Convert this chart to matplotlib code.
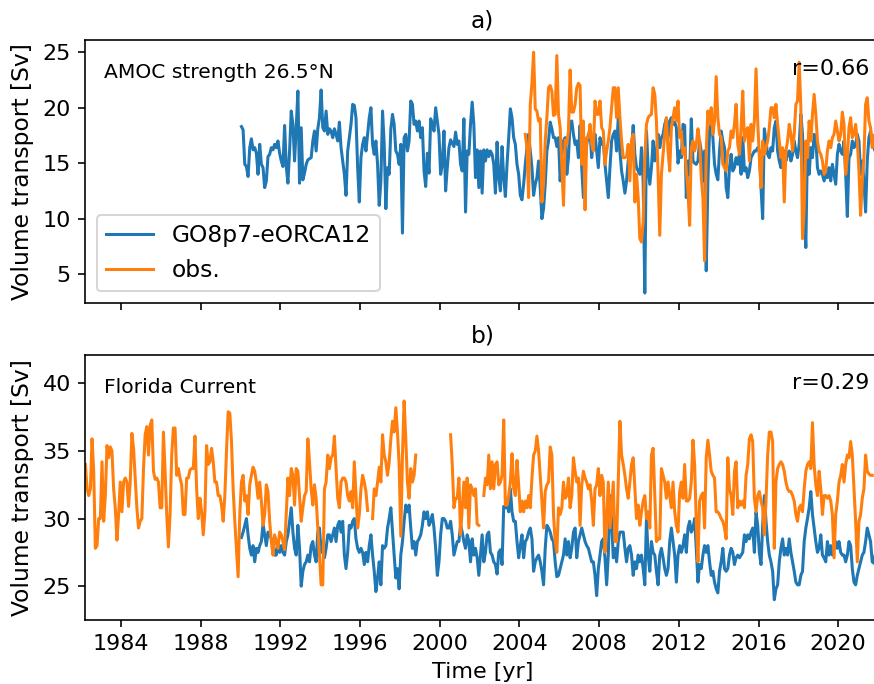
import numpy as np
import matplotlib
matplotlib.use("Agg")
import matplotlib.pyplot as plt

nan = np.nan

# monthly means, model run starts Jan 1990
amoc_model = [
    18.3, 18.0, 14.9, 14.7, 13.8, 16.4, 17.2, 16.2, 16.4, 15.9, 14.0, 16.7,
    14.9, 14.6, 12.8, 13.4, 15.6, 15.8, 16.4, 16.2, 16.7, 16.4, 17.0, 15.9,
    15.2, 14.7, 18.4, 14.7, 13.2, 16.1, 19.7, 18.5, 15.2, 18.2, 21.5, 13.2,
    18.2, 13.5, 14.1, 14.9, 15.3, 15.4, 15.5, 17.0, 17.9, 16.1, 18.1, 19.1,
    21.6, 18.2, 17.9, 19.7, 17.6, 18.1, 17.9, 17.3, 18.1, 17.6, 17.0, 18.7,
    16.4, 15.2, 14.0, 12.1, 16.1, 17.3, 18.5, 20.3, 20.2, 19.1, 14.6, 11.5,
    15.5, 16.7, 17.3, 16.1, 17.6, 19.1, 20.0, 16.7, 15.8, 17.0, 14.9, 11.2,
    13.4, 19.7, 16.7, 10.9, 14.6, 14.0, 18.1, 19.4, 18.5, 16.1, 15.8, 14.9,
    16.7, 8.7, 17.3, 17.6, 16.1, 17.0, 20.6, 20.3, 18.5, 18.8, 17.9, 18.8,
    17.3, 18.2, 14.3, 12.9, 15.9, 14.1, 19.0, 18.5, 17.9, 20.0, 18.8, 17.6,
    14.0, 14.9, 17.9, 12.5, 14.6, 16.4, 17.1, 16.8, 16.5, 17.8, 16.7, 17.0,
    14.9, 14.3, 19.0, 10.6, 16.1, 15.8, 18.5, 20.5, 18.5, 13.7, 16.2, 12.8,
    16.1, 12.3, 16.2, 15.2, 16.2, 15.6, 16.1, 15.8, 14.9, 12.3, 16.9, 13.7,
    12.5, 16.5, 13.7, 12.0, 14.9, 17.3, 19.9, 19.1, 17.3, 16.7, 14.9, 14.0,
    12.1, 11.7, 13.1, 14.9, 16.4, 17.6, 16.1, 14.6, 12.1, 13.1, 13.7, 15.2,
    12.8, 10.0, 10.9, 13.1, 16.1, 17.0, 18.7, 18.1, 17.3, 17.3, 16.5, 17.3,
    13.4, 15.8, 17.0, 17.3, 14.0, 15.5, 18.7, 18.8, 17.6, 16.7, 17.0, 15.5,
    18.4, 14.6, 11.9, 14.9, 16.7, 17.6, 17.8, 15.5, 17.0, 17.6, 16.1, 14.6,
    17.3, 16.7, 17.0, 14.9, 13.4, 11.9, 14.6, 17.0, 17.6,
    17.9, 16.1, 19.1, 16.1, 14.3, 13.4, 12.3, 13.4, 15.2, 16.1, 16.4, 18.4,
    15.8, 14.6, 14.3, 14.0, 16.4, 13.4, 3.3, 17.9, 14.6, 13.1, 14.6, 17.0,
    15.2, 16.1, 17.6, 16.4, 17.3, 17.6, 18.5, 19.0, 17.3, 18.8, 19.1, 18.5,
    18.7, 18.2, 15.0, 16.1, 15.5, 18.5, 18.4, 11.9, 15.2, 14.0, 19.0, 15.2,
    15.0, 14.9, 15.2, 17.0, 16.1, 13.4, 16.1, 5.3, 13.4, 17.9, 18.8, 17.3,
    14.9, 14.0, 13.5, 16.1, 17.9, 17.0, 16.4, 12.8, 11.9, 14.6, 15.8, 14.3,
    14.6, 15.5, 14.9, 15.8, 14.0, 17.3, 14.3, 14.6, 13.7, 14.3, 15.5, 15.8,
    16.1, 16.1, 16.4, 16.1, 12.8, 10.0, 18.1, 17.0, 15.8, 15.5, 16.4, 16.1,
    18.2, 18.8, 16.1, 15.2, 14.6, 15.8, 16.1, 15.2, 15.8, 16.1, 15.2, 15.8,
    17.0, 16.1, 15.5, 16.7, 19.4, 17.6, 10.9, 7.4, 17.0, 14.0,
    16.4, 15.5, 17.6, 17.3, 14.6, 14.0, 14.3, 14.0, 13.4, 14.0, 13.7, 14.6,
    13.4, 14.9, 14.0, 13.1, 15.8, 16.7, 16.1, 15.8, 17.0, 14.0, 10.2, 15.5,
    15.8, 17.0, 16.4, 16.7, 17.6, 17.0, 14.0, 15.2, 13.4, 10.6, 15.2, 17.3,
    17.9, 16.7, 16.4, 16.0, 15.2,
]

# RAPID array, from Apr 2004
amoc_obs = [
    17.6, 16.4, 11.9, 20.3, 22.2, 25.0, 19.9, 19.7, 18.8,
    19.0, 11.5, 13.1, 17.0, 19.1, 21.8, 22.0, 21.5, 19.3, 19.4, 24.7, 19.4,
    18.2, 14.9, 11.2, 17.1, 16.7, 17.9, 23.4, 19.6, 19.6, 20.3, 21.8, 22.2,
    22.0, 14.9, 18.8, 10.8, 17.3, 17.3, 18.5, 16.7, 16.1, 20.6, 19.4, 19.4,
    20.6, 18.2, 17.9, 14.9, 16.1, 17.0, 18.2, 20.0, 21.8,
    21.8, 19.1, 21.8, 19.1, 17.0, 15.5, 15.5, 15.6, 16.7, 13.4, 17.0, 17.6,
    11.5, 14.0, 11.9, 8.2, 7.9, 9.7, 15.5, 18.5, 19.1, 19.3, 19.4, 21.8,
    21.2, 18.8, 14.0, 8.5, 14.0, 15.8, 17.6, 19.1, 16.1, 14.3, 18.2, 19.1,
    20.0, 18.8, 20.6, 17.3, 17.9, 15.8, 16.4, 14.3, 12.5, 9.4, 16.4, 17.0,
    16.1, 16.7, 18.1, 17.0, 13.7, 11.9, 6.2, 16.1, 19.7, 18.5, 20.0, 17.6,
    18.8, 22.8, 19.1, 17.6, 17.3, 14.9, 14.6, 14.3, 16.1, 16.4, 17.9, 17.3,
    18.5, 20.3, 16.7, 15.8, 18.2, 21.5, 17.0, 17.9, 18.2, 15.2, 18.5, 17.0,
    18.8, 23.5, 18.8, 15.5, 12.8, 17.0, 15.8, 16.4, 17.0, 18.2, 20.0, 20.0,
    19.1, 20.3, 18.5, 17.0, 15.5, 16.4, 11.5, 16.1, 17.0, 18.5, 17.6, 16.1,
    17.6, 20.3, 20.6, 24.1, 20.0, 8.2, 10.9, 17.0, 15.5,
    18.8, 17.0, 19.4, 21.2, 19.4, 17.0, 16.1, 15.8, 15.2, 14.0, 14.3, 16.1,
    17.0, 16.4, 17.3, 17.6, 18.8, 17.9, 17.0, 17.6, 19.6, 18.5, 14.0, 15.5,
    18.2, 19.1, 17.3, 17.6, 18.5, 17.0, 14.3, 10.3, 13.4, 15.5, 20.3, 20.9,
    18.8, 18.2, 16.4, 17.5,
]

# model, Florida Current, from Jan 1990
fc_model = [
    28.6, 29.0, 29.5, 30.0, 28.8, 27.8, 27.3, 28.0, 26.8, 27.8, 27.5, 28.0,
    28.3, 29.6, 28.8, 28.0, 29.0, 28.8, 28.5, 28.3, 27.3,
    27.3, 28.3, 27.5, 28.0, 27.5, 27.3, 28.3, 28.8, 29.8, 30.8, 29.0, 27.8,
    27.3, 29.5, 27.8, 25.0, 26.1, 26.6, 26.8, 27.3, 26.8, 28.0, 28.3, 27.3,
    26.8, 29.0, 29.3, 27.5, 28.3, 27.1, 27.8, 28.8, 28.8, 28.3, 28.8, 29.3,
    28.3, 29.5, 29.8, 29.0, 29.8, 27.3, 26.3, 27.5, 29.5, 29.3, 29.8, 30.0,
    28.5, 27.8, 27.5, 27.8, 27.5, 26.6, 27.5, 26.8, 28.0, 28.8, 27.3, 26.1,
    24.6, 25.6, 26.8, 25.1, 28.0, 27.8, 28.0, 29.3, 30.0, 30.8, 29.0, 27.3,
    25.6, 26.3, 24.8, 27.3, 28.3, 29.8, 31.0, 30.5, 31.0, 29.3, 27.8, 28.3,
    27.3, 28.3, 28.5, 28.8, 29.5, 30.5, 30.0, 30.5, 29.5, 29.8, 30.3, 29.3,
    27.8, 25.8, 26.8, 28.8, 30.0, 30.0, 29.8, 29.3, 29.3, 29.8, 28.8, 27.3,
    27.8, 28.3, 28.3, 29.5, 29.0, 28.3, 27.8, 28.8, 28.3, 26.8, 28.5,
    27.3, 27.8, 27.1, 25.8, 27.3, 28.8, 26.8, 27.5, 28.8, 29.0, 27.5, 27.3,
    26.8, 26.6, 25.9, 27.5, 27.7, 26.6, 30.9, 30.8, 31.0, 30.5, 32.2, 30.5,
    29.8, 29.8, 28.3, 27.1, 28.0, 28.8, 27.1, 28.3, 28.5, 29.0, 29.3, 28.5,
    26.1, 26.8, 27.1, 27.3, 26.8, 26.1, 25.1, 27.8, 29.5, 29.3, 29.0, 28.5,
    28.3, 26.8, 25.7, 25.8, 26.3, 26.8, 27.3, 28.5, 27.3, 28.3, 27.1, 27.8,
    29.0, 29.3, 27.1, 28.3, 28.8, 29.3, 28.8, 28.3, 28.0, 27.8, 27.3, 26.8,
    26.8, 25.8, 24.3, 26.3, 27.3, 28.3, 28.5, 27.1, 25.1, 27.3, 31.7, 29.8,
    27.1, 27.8, 26.8, 28.3, 29.0, 29.0, 29.0, 27.8, 26.8, 27.8, 28.0, 27.3,
    25.8, 26.8, 26.3, 27.3, 26.8, 27.3, 26.3, 25.1, 30.0, 27.3, 26.1, 28.3,
    27.5, 27.3, 26.1, 25.1, 27.3, 27.8, 27.1, 26.3, 25.8, 26.3,
    28.3, 29.3, 28.3, 27.3, 25.3, 27.3, 28.0, 27.5, 28.0, 28.8, 27.5, 29.3,
    29.8, 29.0, 29.3, 30.0, 27.8, 25.3, 26.6, 26.3, 27.3, 28.0, 27.5, 28.0,
    26.8, 25.8, 26.1, 25.3, 24.8, 24.5, 26.1, 26.8, 27.8, 26.3, 26.1, 26.3,
    27.3, 27.8, 27.5, 26.6, 27.1, 27.3, 27.1, 27.3, 27.5, 28.8, 28.3, 28.8,
    28.5, 29.0, 29.3, 27.5, 30.5, 29.5, 27.5, 26.6, 29.5, 31.7, 29.8, 28.3,
    27.3, 26.8, 26.1, 24.0, 24.8, 25.1, 26.8, 27.8, 28.5, 27.3, 27.8, 27.3,
    28.5, 27.5, 26.8, 26.1, 25.3, 25.1, 25.1, 25.8, 26.1, 28.3, 29.3, 30.0,
    30.8, 32.0, 30.3, 29.3, 28.3, 27.5, 27.8, 28.8, 27.3, 27.1, 26.8, 28.3,
    27.3, 28.0, 27.3, 27.8, 28.3, 27.8, 28.3, 27.5, 27.3, 27.3, 26.8, 27.3,
    28.3, 28.0, 26.3, 25.3, 25.1, 25.8, 26.3, 26.8, 27.3, 27.5, 28.3, 29.3,
    28.8, 28.3, 26.8, 26.7, 27.5, 28.0,
]

# cable observations, from Mar 1982 (nan = no data)
fc_obs = [
    34.0, 32.2, 31.7, 32.2, 35.9, 33.5, 27.8, 28.0, 30.0, 30.0, 34.2, 29.8,
    31.7, 35.4, 34.5, 35.3, 35.0, 32.2, 30.8, 28.4, 30.3, 32.7, 30.5, 32.7,
    33.0, 32.7, 30.9, 32.7, 36.3, 35.2, 33.0, 30.8, 29.3, 29.8, 30.0, 33.7,
    36.2, 36.8, 34.7, 36.9, 37.3, 33.5, 32.9, 33.0, 32.7, 30.8, 30.8, 36.4,
    33.5, 30.3, 27.9, 30.3, 34.7, 36.7, 36.7, 33.2, 33.7, 33.0, 32.5, 30.3,
    30.3, 33.0, 33.0, 33.6, 33.7, 33.7, 36.1, 32.2, 30.0, 31.5, 30.5, 28.8,
    30.5, 35.4, 34.0, 34.2, 35.2, 34.2, 32.7, 32.7, 31.7, 31.7, 31.0, 29.8,
    31.7, 35.0, 37.9, 37.8, 35.7, 32.2, 29.8, 27.8, 25.7, 30.3, 32.7, 33.2,
    31.3, 31.7, 30.3, 32.5, 33.2, 33.8, 33.5, 32.7, 31.5, 32.7, 31.3, 29.5,
    30.3, 32.5, 32.0, 29.8, 28.3, 27.3, 28.8, 28.3, 27.8,
    29.0, 28.8, 28.3, 27.7, 30.3, 33.0, 31.7, 33.7, 33.2, 31.0, 33.7, 33.5,
    31.7, 29.8, 30.8, 31.7, 32.0, 35.9, 34.2, 32.2, 31.0, 32.5, 31.5, 29.3,
    27.3, 25.1, 25.1, 32.2, 32.7, 34.7, 33.7, 34.5, 34.7, 36.1, 33.7, 31.5,
    30.8, 32.7, 33.0, 33.0, 32.7, 31.7, 31.3, 32.0, 30.8, 34.2, 31.7, 29.3,
    30.3, 32.2, 33.2, 32.7, 32.0, 30.6, nan, nan,
    30.0, 32.2, 31.7, 32.7, 33.8, 32.7, 36.2, 34.7, 34.2, 33.2, 34.2, 35.9,
    37.2, 36.4, 38.2, 36.4, 34.0, 28.7, 34.7, 38.7, 35.9, 32.7, 31.5, 33.7,
    32.7, 33.2, 34.7,
    nan, nan, nan, nan, nan, nan, nan, nan, nan, nan,
    nan, nan, nan, nan, nan, nan, nan, nan, nan, nan,
    36.2, 34.0, 30.8, 31.5, 31.5, 33.0, 28.8, 30.8, 32.7, 30.8, 33.0, 29.3,
    32.5, 32.2, 31.7, 32.2, 29.6, 29.5, nan, nan,
    31.7, 33.0, 32.5, 34.7, 32.2, 34.2, 32.2, 34.0, 34.2, 32.5, 32.7, 33.2,
    37.3, 31.0, 31.0, 31.7, 32.7, 34.8, 32.2, 31.7, 34.3, 32.5, 30.5, 31.3,
    30.5, 31.3, 30.8, 31.7, 30.8, 33.0, 34.7, 35.0, 36.1, 35.0, 33.2, 31.3,
    29.3, 32.0, 32.5, 32.7, 35.3, 34.7, 30.3, 28.3, 27.5, 30.8, 30.3, 30.8,
    32.7, 31.5, 31.7, 33.0, 30.8, 31.7, 34.5, 33.5, 32.7, 33.0, 29.5, 32.5,
    33.5, 33.0, 32.7, 32.2, 32.5, 31.3, 29.5, 32.2, 32.5, 33.7, 31.7, 33.2,
    32.7, 27.5, 29.8, 32.7, 29.3, 31.0, 32.7, 28.3, 28.3, 32.7, 37.2, 34.7,
    34.0, 33.2, 32.2, 31.5, 32.7, 34.0, 34.5, 32.2, 30.0, 31.0, 29.5, 30.5,
    31.3, 31.7, 30.0, 30.5, 29.3, 34.7, 35.2, 31.7, 28.3, 28.5, 28.5, 33.7,
    33.2, 32.7, 31.5, 32.7, 31.7,
    30.8, 32.7, 30.5, 29.5, 29.0, 32.0, 32.7, 31.5, 34.0, 31.3, 31.3, 31.5,
    32.7, 35.8, 34.0, 29.8, 26.8, 31.3, 31.7, 31.9, 29.3, 34.5, 35.8, 34.7,
    33.5, 33.2, 33.0, 30.5, 30.5, 30.3, 30.0, 29.8, 29.3, 28.5, 34.5, 32.2,
    31.7, 30.3, 33.5, 34.2, 30.8, 31.3, 31.0, 31.3, 30.8, 33.2, 34.0, 35.9,
    36.2, 35.7, 31.5, 30.5, 31.7, 32.0, 31.3, 30.8, 28.8, 31.3, 34.7, 36.4,
    36.4, 35.7, 27.8, 32.7, 33.7, 34.0, 34.2, 34.0, 33.5, 32.7, 32.2, 32.0,
    32.0, 31.7, 31.3, 30.3, 29.8, 30.8, 31.0, 30.5, 32.2, 33.5, 34.0, 34.2,
    33.7, 37.1, 34.0, 32.5, 31.7, 33.5, 32.2, 30.3, 31.7, 31.7, 31.5, 31.7,
    31.3, 30.3, 27.1, 30.3, 31.3, 32.7, 33.2, 34.0, 32.7, 34.0, 34.7, 34.5,
    35.7, 34.7, 32.2, 29.8, 26.8, 29.8, 30.3, 31.5, 32.2, 34.7, 33.5, 33.3,
    33.2, 33.2,
]


def monthly(year, month, n):
    return year + (month - 1 + np.arange(n) + 0.5) / 12.0


t_amoc_model = monthly(1990, 1, len(amoc_model))
t_amoc_obs = monthly(2004, 4, len(amoc_obs))
t_fc_model = monthly(1990, 1, len(fc_model))
t_fc_obs = monthly(1982, 3, len(fc_obs))

plt.rcParams["font.size"] = 11

fig = plt.figure(figsize=(874 / 146, 684 / 146), dpi=146)
# axes run slightly past the right edge, like the cropped original
ax1 = fig.add_axes([0.0973, 0.557, 0.9096, 0.3845])
ax2 = fig.add_axes([0.0973, 0.0936, 0.9096, 0.3874], sharex=ax1)

lw = 1.5
ax1.plot(t_amoc_model, amoc_model, color="C0", lw=lw, label="GO8p7-eORCA12")
ax1.plot(t_amoc_obs, amoc_obs, color="C1", lw=lw, label="obs.")
ax1.set_ylim(2.4, 26.1)
ax1.set_ylabel("Volume transport [Sv]", fontsize=11.5)
ax1.set_title("a)", fontsize=11.5)
ax1.text(0.024, 0.875, "AMOC strength 26.5°N", transform=ax1.transAxes,
         fontsize=10, va="center", ha="left")
ax1.text(0.987, 0.89, "r=0.66", transform=ax1.transAxes,
         fontsize=11, va="center", ha="right")
ax1.legend(loc="lower left", fontsize=11.5)
ax1.tick_params(labelbottom=False)

ax2.plot(t_fc_model, fc_model, color="C0", lw=lw)
ax2.plot(t_fc_obs, fc_obs, color="C1", lw=lw)
ax2.set_ylim(22.5, 42.1)
ax2.set_yticks([25, 30, 35, 40])
ax2.set_ylabel("Volume transport [Sv]", fontsize=11.5)
ax2.set_xlabel("Time [yr]")
ax2.set_title("b)", fontsize=11.5)
ax2.text(0.024, 0.879, "Florida Current", transform=ax2.transAxes,
         fontsize=10, va="center", ha="left")
ax2.text(0.987, 0.894, "r=0.29", transform=ax2.transAxes,
         fontsize=11, va="center", ha="right")

ax2.set_xlim(1982.19, 2022.1)
ax2.set_xticks(np.arange(1984, 2021, 4))

fig.savefig("out.png", dpi=146)
